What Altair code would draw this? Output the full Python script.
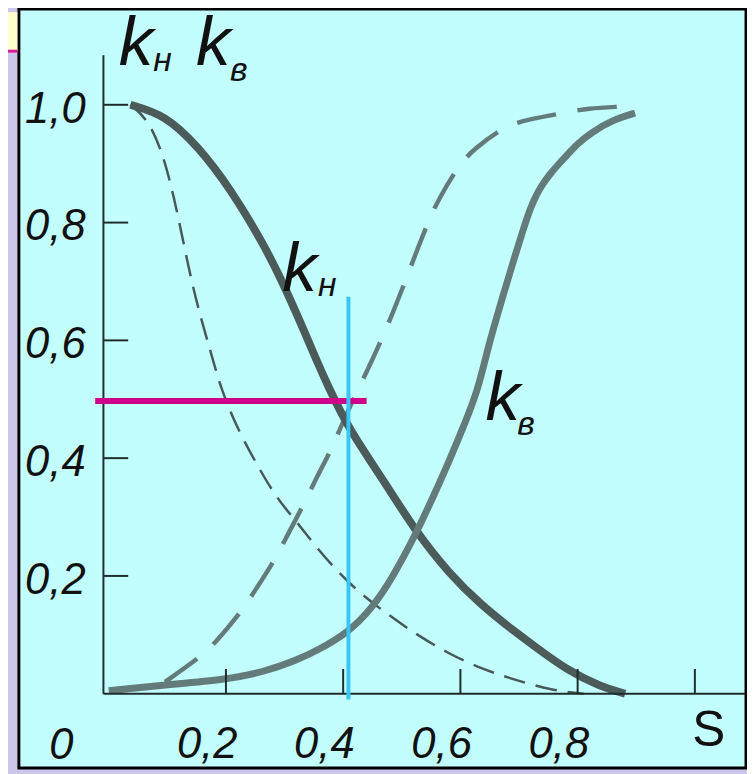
import altair as alt
import pandas as pd

# ---------------- data ----------------
# thick solid k_н
S_KN = [0.037, 0.096, 0.152, 0.208, 0.265, 0.293, 0.321, 0.352, 0.377, 0.409,
        0.467, 0.524, 0.580, 0.636, 0.692, 0.726, 0.782, 0.839, 0.881]
KN = [1.000, 0.983, 0.930, 0.857, 0.762, 0.706, 0.645, 0.572, 0.516, 0.451,
      0.365, 0.275, 0.205, 0.150, 0.106, 0.081, 0.040, 0.012, 0.000]

# thick solid k_в
S_KV = [0.000, 0.096, 0.200, 0.265, 0.321, 0.355, 0.409, 0.450, 0.484, 0.523,
        0.552, 0.580, 0.608, 0.630, 0.647, 0.670, 0.692, 0.700, 0.710, 0.720,
        0.730, 0.740, 0.754, 0.770, 0.782, 0.800, 0.822, 0.861, 0.898]
KV = [0.005, 0.015, 0.024, 0.037, 0.057, 0.073, 0.104, 0.146, 0.197, 0.269,
      0.331, 0.393, 0.460, 0.516, 0.588, 0.667, 0.740, 0.765, 0.797, 0.826,
      0.848, 0.865, 0.884, 0.902, 0.915, 0.934, 0.952, 0.975, 0.986]

# thin short-dashed k_н
S_KN_D = [0.037, 0.068, 0.096, 0.118, 0.135, 0.152, 0.175, 0.192, 0.220, 0.254,
          0.287, 0.321, 0.355, 0.411, 0.467, 0.524, 0.580, 0.636, 0.692, 0.754,
          0.810]
KN_D = [1.000, 0.975, 0.908, 0.813, 0.729, 0.656, 0.577, 0.516, 0.449, 0.387,
        0.331, 0.292, 0.247, 0.185, 0.141, 0.101, 0.068, 0.042, 0.024, 0.006,
        0.000]

# long-dashed k_в
S_KV_D = [0.096, 0.152, 0.180, 0.225, 0.245, 0.282, 0.299, 0.332, 0.355, 0.380,
          0.394, 0.422, 0.439, 0.467, 0.484, 0.507, 0.521, 0.546, 0.563, 0.597,
          0.622, 0.675, 0.715, 0.782, 0.816, 0.875]
KV_D = [0.020, 0.059, 0.084, 0.138, 0.168, 0.225, 0.258, 0.320, 0.368, 0.415,
        0.449, 0.510, 0.544, 0.605, 0.645, 0.703, 0.740, 0.804, 0.840, 0.897,
        0.924, 0.964, 0.975, 0.987, 0.994, 0.997]

# marker lines
VLINE_S = [0.409]
VLINE_K = [-0.010, 0.674]
HLINE_K = [0.497]
HLINE_S = [-0.023, 0.440]

# axes
AXIS_S = -0.009
AXIS_TOP_K = 1.084
AXIS_RIGHT_S = 1.0856
Y_TICKS = [1.0, 0.8, 0.6, 0.4, 0.2]
Y_LABELS = ["1,0", "0,8", "0,6", "0,4", "0,2"]
X_TICKS = [0.2, 0.4, 0.6, 0.8, 1.0]
X_LABEL_VALUES = [0.2, 0.4, 0.6, 0.8]
X_LABELS = ["0,2", "0,4", "0,6", "0,8"]
ORIGIN_LABEL = ["0"]
X_TITLE = ["S"]

# annotation anchors (data units)
BIG_K_S = [0.017, 0.149, 0.296, 0.643]
BIG_K_K = [1.068, 1.068, 0.684, 0.465]
SUB_TEXT = ["н", "в", "н", "в"]
SUB_S = [0.076, 0.207, 0.357, 0.697]
SUB_K = [1.057, 1.040, 0.675, 0.440]

# ---------------- styling ----------------
W, H = 747, 766
XDOM = [-0.17181, 1.08895]
YDOM = [-0.12935, 1.15740]
CYAN = "#c2fefe"
PURPLE = "#cbc6ea"
YELLOW = "#ffffcc"
PINK = "#e0189a"
DARK = "#1e2c2c"
KN_COL = "#4b5b5a"
KV_COL = "#647b7b"
FONT = "Liberation Sans, Arial, sans-serif"
TXT = "#111111"

xs = alt.Scale(domain=XDOM, nice=False, zero=False)
ys = alt.Scale(domain=YDOM, nice=False, zero=False)


def X(f):
    return alt.X(f, type="quantitative", scale=xs, axis=None)


def Y(f):
    return alt.Y(f, type="quantitative", scale=ys, axis=None)


one = pd.DataFrame({"d": [0]})

# decorations (frame)
panel = alt.Chart(one).mark_rect(fill=CYAN, stroke="#000000", strokeWidth=3).encode(
    x=alt.value(11), x2=alt.value(746), y=alt.value(-3), y2=alt.value(764))
yellow = alt.Chart(one).mark_rect(fill=YELLOW).encode(
    x=alt.value(0), x2=alt.value(9.5), y=alt.value(0), y2=alt.value(39))
pink = alt.Chart(one).mark_rect(fill=PINK).encode(
    x=alt.value(0), x2=alt.value(9.5), y=alt.value(38), y2=alt.value(41))

# axes
yaxis = alt.Chart(pd.DataFrame({"s": [AXIS_S], "k0": [0.0], "k1": [AXIS_TOP_K]})).mark_rule(
    color=DARK, strokeWidth=2).encode(x=X("s"), y=Y("k0"), y2=alt.Y2("k1"))
xaxis = alt.Chart(pd.DataFrame({"s0": [AXIS_S], "s1": [AXIS_RIGHT_S], "k": [0.0]})).mark_rule(
    color=DARK, strokeWidth=2).encode(x=X("s0"), x2=alt.X2("s1"), y=Y("k"))
yt = pd.DataFrame({"k": Y_TICKS, "lab": Y_LABELS})
yt["s0"] = AXIS_S
yticks = alt.Chart(yt).mark_rule(color=DARK, strokeWidth=2, x2Offset=25).encode(
    x=X("s0"), x2=alt.X2("s0"), y=Y("k"))
ylabels = alt.Chart(yt).mark_text(
    font=FONT, fontSize=44, fontStyle="italic", align="right", baseline="alphabetic",
    dx=-18, dy=18, color=TXT).encode(x=X("s0"), y=Y("k"), text="lab:N")
xt = pd.DataFrame({"s": X_TICKS})
xt["k0"] = 0.0
xticks = alt.Chart(xt).mark_rule(color=DARK, strokeWidth=2, y2Offset=-25).encode(
    x=X("s"), y=Y("k0"), y2=alt.Y2("k0"))
xl = pd.DataFrame({"s": X_LABEL_VALUES, "lab": X_LABELS})
xl["k0"] = 0.0
xlabels = alt.Chart(xl).mark_text(
    font=FONT, fontSize=44, fontStyle="italic", align="center", baseline="alphabetic",
    dx=-19, dy=65, color=TXT).encode(x=X("s"), y=Y("k0"), text="lab:N")
ol = pd.DataFrame({"s": [0.0], "k0": [0.0], "lab": ORIGIN_LABEL})
olabel = alt.Chart(ol).mark_text(
    font=FONT, fontSize=44, fontStyle="italic", align="center", baseline="alphabetic",
    dx=-48, dy=66, color=TXT).encode(x=X("s"), y=Y("k0"), text="lab:N")
tl = pd.DataFrame({"s": [1.0], "k0": [0.0], "lab": X_TITLE})
xtitle = alt.Chart(tl).mark_text(
    font=FONT, fontSize=50, align="center", baseline="alphabetic",
    dx=14, dy=53, color=TXT).encode(x=X("s"), y=Y("k0"), text="lab:N")


# curves
def curve(svals, kvals, color, width, dash=None):
    df = pd.DataFrame({"s": svals, "k": kvals})
    kw = dict(color=color, strokeWidth=width, interpolate="basis", strokeCap="butt")
    if dash is not None:
        kw["strokeDash"] = dash
    return alt.Chart(df).mark_line(**kw).encode(x=X("s"), y=Y("k"), order="s:Q")


kn_dash = curve(S_KN_D, KN_D, "#465858", 2.5, [22, 11])
kv_dash = curve(S_KV_D, KV_D, KV_COL, 4.5, [40, 22])
kn_line = curve(S_KN, KN, KN_COL, 8)
kv_line = curve(S_KV, KV, KV_COL, 7)

hline = alt.Chart(pd.DataFrame({"s0": [HLINE_S[0]], "s1": [HLINE_S[1]], "k": HLINE_K})).mark_rule(
    color="#d1008a", strokeWidth=6).encode(x=X("s0"), x2=alt.X2("s1"), y=Y("k"))
vline = alt.Chart(pd.DataFrame({"s": VLINE_S, "k0": [VLINE_K[0]], "k1": [VLINE_K[1]]})).mark_rule(
    color="#38c6f6", strokeWidth=4).encode(x=X("s"), y=Y("k0"), y2=alt.Y2("k1"))

# annotations
bigk = alt.Chart(pd.DataFrame({"s": BIG_K_S, "k": BIG_K_K, "t": ["k"] * len(BIG_K_S)})).mark_text(
    font=FONT, fontSize=70, fontStyle="italic", align="left", baseline="alphabetic",
    color=TXT).encode(x=X("s"), y=Y("k"), text="t:N")
subs = alt.Chart(pd.DataFrame({"s": SUB_S, "k": SUB_K, "t": SUB_TEXT})).mark_text(
    font=FONT, fontSize=34, fontStyle="italic", align="left", baseline="alphabetic",
    color=TXT).encode(x=X("s"), y=Y("k"), text="t:N")

chart = alt.layer(
    panel, yellow, pink,
    kn_dash, kv_dash, kn_line, kv_line,
    yaxis, xaxis, yticks, xticks,
    hline, vline,
    ylabels, xlabels, olabel, xtitle, bigk, subs,
).properties(
    width=W, height=H, autosize="none", padding=0, background=PURPLE,
).configure_view(stroke=None, fill=None)

chart.save("out.html", embed_options={"renderer": "svg", "actions": False})
